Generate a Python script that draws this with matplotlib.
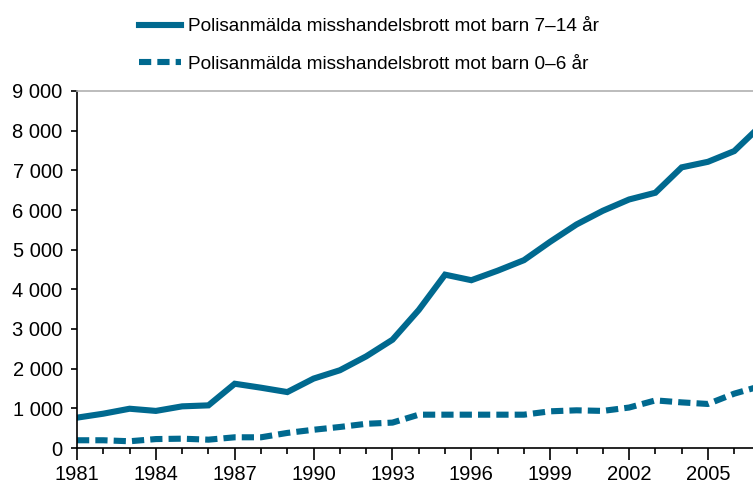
#!/usr/bin/env python3
"""Polisanmälda misshandelsbrott mot barn, 1981-2007."""

import matplotlib

matplotlib.use("Agg")
import matplotlib.pyplot as plt
from matplotlib.ticker import FixedLocator, FuncFormatter, MultipleLocator

plt.rcParams["font.family"] = ["Liberation Sans", "DejaVu Sans"]

YEARS = list(range(1981, 2008))
BARN_7_14 = [765, 865, 990, 935, 1050, 1075, 1620, 1520, 1410, 1750, 1960, 2310, 2730,
             3480, 4370, 4230, 4470, 4735, 5200, 5635, 5980, 6265, 6435, 7075, 7215, 7485, 8120]
BARN_0_6 = [195, 195, 170, 225, 235, 210, 270, 270, 380, 460, 530, 610, 640,
            840, 840, 840, 840, 840, 925, 950, 935, 1020, 1200, 1150, 1110, 1370, 1560]
LABELS = ["Polisanmälda misshandelsbrott mot barn 7\u201314 år",
          "Polisanmälda misshandelsbrott mot barn 0\u20136 år"]
MAJOR_YEARS = list(range(1981, 2008, 3))

COLOR = "#00698f"

fig = plt.figure(figsize=(7.53, 4.84), dpi=100)
ax = fig.add_axes([77 / 753, 1 - 448 / 484, 1 - 77 / 753 + 0.01, (448 - 91) / 484])

ax.plot(YEARS, BARN_7_14, color=COLOR, lw=4.4, solid_joinstyle="miter", label=LABELS[0])
ax.plot(YEARS, BARN_0_6, color=COLOR, lw=4.4, dashes=(2.0, 1.0), dash_capstyle="butt",
        label=LABELS[1])

ax.set_xlim(1981, 2007)
ax.set_ylim(0, 9000)
ax.xaxis.set_major_locator(FixedLocator(MAJOR_YEARS))
ax.xaxis.set_minor_locator(MultipleLocator(1))
ax.yaxis.set_major_locator(MultipleLocator(1000))
ax.yaxis.set_major_formatter(FuncFormatter(lambda v, _: f"{int(v):,}".replace(",", " ")))

ax.tick_params(axis="x", which="major", length=8.6, width=1.2, labelsize=14.5, pad=4)
ax.tick_params(axis="x", which="minor", length=4.3, width=1.2)
ax.tick_params(axis="y", length=4.3, width=1.2, labelsize=14.5, pad=6)

for side in ("left", "bottom"):
    ax.spines[side].set_linewidth(1.2)
    ax.spines[side].set_color("black")
ax.spines["top"].set_color("#b0b0b0")
ax.spines["top"].set_linewidth(1.2)
ax.spines["right"].set_visible(False)

handles, labels = ax.get_legend_handles_labels()
fig.legend(
    handles,
    labels,
    loc="upper left",
    bbox_to_anchor=(122 / 753, 0.998),
    frameon=False,
    fontsize=13.7,
    labelspacing=1.05,
    handlelength=2.2,
    handletextpad=0.35,
)

fig.savefig("out.png", dpi=100)
plt.close(fig)
